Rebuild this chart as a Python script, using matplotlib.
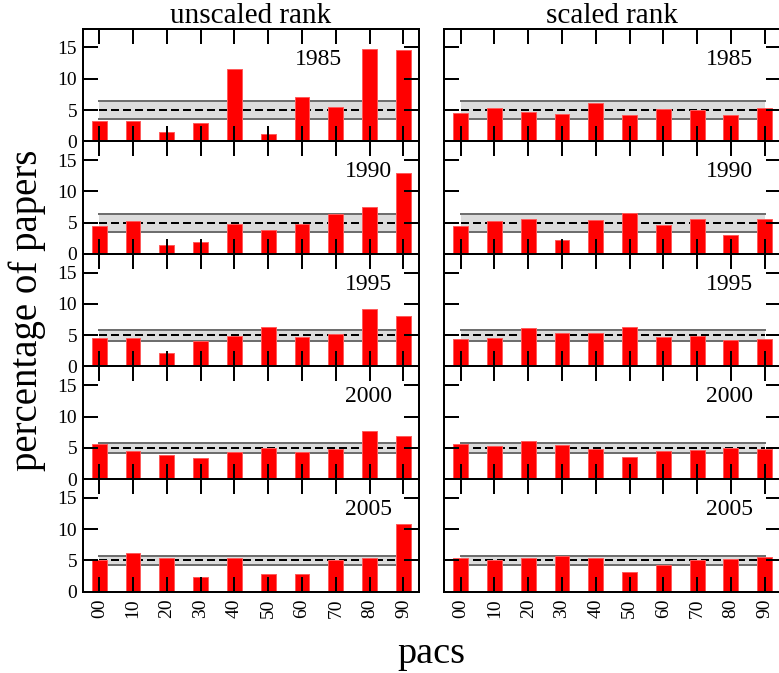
import matplotlib
matplotlib.use("Agg")
import matplotlib.pyplot as plt
import numpy as np

plt.rcParams['font.family'] = ['Liberation Serif', 'DejaVu Serif']

categories = ['00', '10', '20', '30', '40', '50', '60', '70', '80', '90']
years = ['1985', '1990', '1995', '2000', '2005']

unscaled_1985 = [3.3, 3.2, 1.5, 2.95, 11.5, 1.2, 7.05, 5.5, 14.8, 14.65]
unscaled_1990 = [4.45, 5.2, 1.35, 1.85, 4.75, 3.8, 4.7, 6.45, 7.55, 12.95]
unscaled_1995 = [4.5, 4.5, 2.15, 4.05, 4.85, 6.25, 4.75, 5.25, 9.25, 8.15]
unscaled_2000 = [5.6, 4.45, 3.8, 3.3, 4.4, 5.05, 4.4, 4.85, 7.65, 6.95]
unscaled_2005 = [5.05, 6.2, 5.35, 2.4, 5.35, 2.85, 2.75, 5.05, 5.45, 10.9]

scaled_1985 = [4.6, 5.35, 4.75, 4.35, 6.15, 4.25, 5.2, 4.95, 4.25, 5.3]
scaled_1990 = [4.45, 5.2, 5.5, 2.2, 5.45, 6.5, 4.65, 5.6, 3.1, 5.5]
scaled_1995 = [4.45, 4.5, 6.1, 5.3, 5.3, 6.25, 4.75, 4.9, 4.2, 4.45]
scaled_2000 = [5.6, 5.35, 6.1, 5.4, 4.75, 3.55, 4.45, 4.6, 5.05, 4.75]
scaled_2005 = [5.35, 5.05, 5.4, 5.7, 5.4, 3.15, 4.3, 5.0, 5.15, 5.5]

band_low = [3.5, 3.5, 4.15, 4.25, 4.25]
band_high = [6.5, 6.45, 5.85, 5.8, 5.72]
expected = [5, 5, 5, 5, 5]

unscaled = [unscaled_1985, unscaled_1990, unscaled_1995, unscaled_2000, unscaled_2005]
scaled = [scaled_1985, scaled_1990, scaled_1995, scaled_2000, scaled_2005]

W, H = 779, 673
fig = plt.figure(figsize=(W / 100, H / 100), dpi=100)

lw = 1.44
top_px = 28.7
row_h = 112.6
ax_w = 336.6
lefts = [82.7, 444.0]
x = np.arange(len(categories))

# year label x-positions (data coords, right aligned)
year_x = {(0, 0): 7.18}

for r in range(5):
    for c in range(2):
        y0 = top_px + (r + 1) * row_h
        ax = fig.add_axes([lefts[c] / W, 1 - y0 / H, ax_w / W, row_h / H])
        ax.set_axisbelow(False)
        vals = unscaled[r] if c == 0 else scaled[r]
        ax.fill_between([x[0], x[-1]], band_low[r], band_high[r],
                        color='#dcdcdc', lw=0, zorder=1)
        ax.plot([x[0], x[-1]], [band_low[r]] * 2, color='#6e6e6e', lw=lw, zorder=1.5)
        ax.plot([x[0], x[-1]], [band_high[r]] * 2, color='#6e6e6e', lw=lw, zorder=1.5)
        ax.plot([x[0], x[-1]], [expected[r]] * 2, color='black', lw=lw,
                dashes=(4, 2), zorder=1.6)
        ax.bar(x, vals, width=0.44, color='#ff0000', edgecolor='#ff5a5a',
               linewidth=0.7, zorder=2.2)
        ax.set_xlim(-0.49, 9.47)
        ax.set_ylim(0, 18)
        ax.set_yticks([0, 5, 10, 15])
        ax.set_xticks(x)
        ax.tick_params(axis='both', which='major', direction='in', length=10.8,
                       width=lw, top=True, right=True, labelsize=14, pad=4,
                       color='black')
        ax.tick_params(axis='x', labelsize=14, pad=5)
        for sp in ax.spines.values():
            sp.set_linewidth(lw)
            sp.set_zorder(3)
        if c == 0:
            ax.set_yticklabels(['0', '5', '10', '15'])
        else:
            ax.set_yticklabels([])
        if r == 4:
            ax.set_xticklabels(categories, rotation=90)
        else:
            ax.set_xticklabels([])
        xr = year_x.get((r, c), 8.66)
        ax.text(xr, 1 - 36 / row_h, years[r], transform=ax.get_xaxis_transform(),
                ha='right', va='baseline', fontsize=17)
        if r == 0:
            ax.set_title('unscaled rank' if c == 0 else 'scaled rank',
                         fontsize=21, pad=3)

fig.text(8 / W, 1 - 310 / H, 'percentage of papers', rotation=90,
         ha='left', va='center', fontsize=28)
fig.text(431.6 / W, 1 - 663 / H, 'pacs', ha='center', va='baseline', fontsize=27.5)

fig.savefig('out.png', dpi=100)
